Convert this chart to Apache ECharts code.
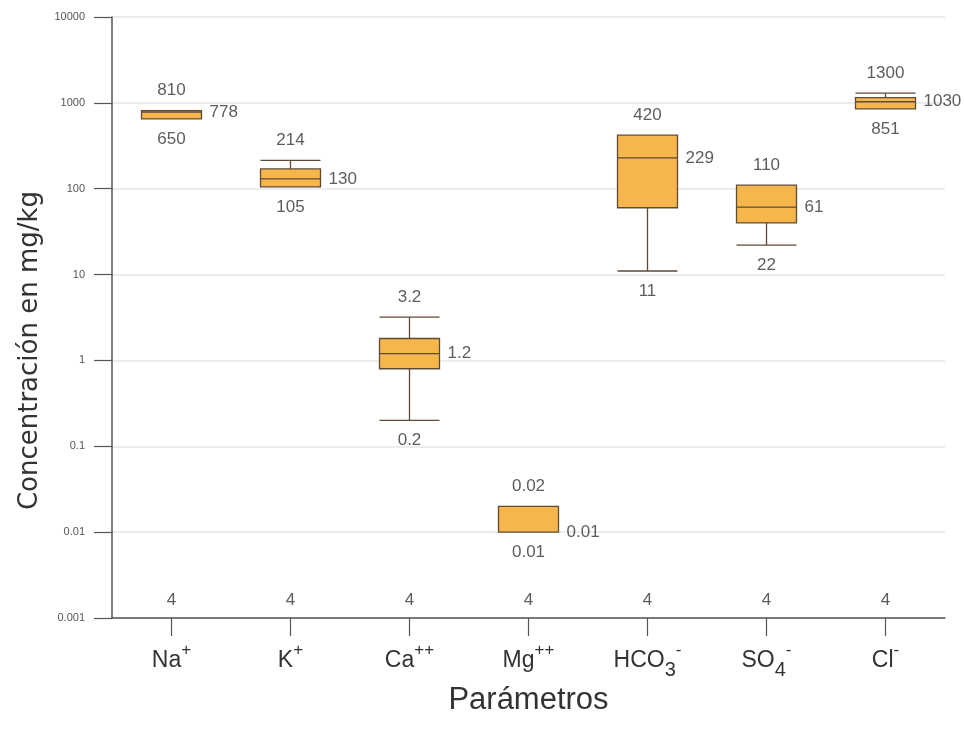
<!DOCTYPE html>
<html><head><meta charset="utf-8">
<script src="https://cdn.jsdelivr.net/npm/echarts@6/dist/echarts.min.js"></script>
<style>html,body{margin:0;padding:0;background:#fff}#c{width:964px;height:733px}</style>
</head><body><div id="c"></div>
<script>
// ---- data ----
const catBase = ['Na', 'K', 'Ca', 'Mg', 'HCO', 'SO', 'Cl'];
const catSub  = ['', '', '', '', '3', '4', ''];
const catSup  = ['+', '+', '++', '++', '-', '-', '-'];
const minV = [650, 105, 0.2, 0.01, 11, 22, 851];
const q1V  = [650, 105, 0.8, 0.01, 60, 40, 851];
const medV = [778, 130, 1.2, 0.01, 229, 61, 1030];
const q3V  = [810, 170, 1.8, 0.02, 420, 110, 1150];
const maxV = [810, 214, 3.2, 0.02, 420, 110, 1300];
const counts = [4, 4, 4, 4, 4, 4, 4];
const yTicks = [0.001, 0.01, 0.1, 1, 10, 100, 1000, 10000];
const yTickLabels = ['0.001', '0.01', '0.1', '1', '10', '100', '1000', '10000'];

// ---- chart ----
const NARROW = "'Liberation Sans Narrow', 'Arial Narrow', 'Liberation Sans', sans-serif";
const SANS = "'Liberation Sans', Arial, sans-serif";
const catNames = catBase.map((b, i) => b + catSub[i] + catSup[i]);
const boxData = catBase.map((_, i) => [minV[i], q1V[i], medV[i], q3V[i], maxV[i]]);

function labelSeries(vals, offset, align) {
  return {
    type: 'scatter',
    data: vals.map((v, i) => [i, v]),
    symbolSize: 1,
    itemStyle: { color: 'rgba(0,0,0,0)' },
    silent: true,
    z: 5,
    label: {
      show: true, position: 'inside', offset: offset, align: align,
      formatter: p => String(vals[p.dataIndex]),
      fontSize: 17, color: '#333', fontFamily: SANS
    }
  };
}

const chart = echarts.init(document.getElementById('c'), null, { renderer: 'canvas' });
chart.setOption({
  animation: false,
  backgroundColor: '#fff',
  grid: { left: 112, right: 19, top: 17, bottom: 115 },
  xAxis: {
    type: 'category',
    data: catNames,
    boundaryGap: true,
    axisLine: { lineStyle: { color: '#555', width: 1.5 } },
    axisTick: { show: true, alignWithLabel: true, length: 18, lineStyle: { color: '#555', width: 1.2 } },
    axisLabel: {
      margin: 24,
      interval: 0,
      formatter: (v, i) => {
        let s = '{b|' + catBase[i] + '}';
        if (catSub[i]) s += '{sub|' + catSub[i] + '}';
        s += '{sup|' + catSup[i] + '}';
        return s;
      },
      rich: {
        b: { fontSize: 23, fontFamily: NARROW, color: '#333', lineHeight: 38, verticalAlign: 'middle' },
        sup: { fontSize: 17, fontFamily: NARROW, color: '#333', lineHeight: 17, verticalAlign: 'top' },
        sub: { fontSize: 20, fontFamily: NARROW, color: '#333', lineHeight: 20, verticalAlign: 'bottom' }
      }
    },
    splitLine: { show: false },
    name: 'Parámetros',
    nameLocation: 'middle',
    nameGap: 58,
    nameTextStyle: { fontSize: 31, fontFamily: NARROW, color: '#333' }
  },
  yAxis: {
    type: 'log',
    logBase: 10,
    min: 0.001,
    max: 10000,
    axisLine: { show: true, lineStyle: { color: '#555', width: 1.5 } },
    axisTick: { show: true, length: 18, lineStyle: { color: '#555', width: 1.2 } },
    axisLabel: {
      margin: 27, fontSize: 11, color: '#555', fontFamily: SANS,
      formatter: v => {
        const k = yTicks.findIndex(t => Math.abs(Math.log10(t) - Math.log10(v)) < 1e-6);
        return k >= 0 ? yTickLabels[k] : '';
      }
    },
    splitLine: { show: true, lineStyle: { color: '#ececec', width: 2 } },
    name: 'Concentración en mg/kg',
    nameLocation: 'middle',
    nameGap: 64,
    nameTextStyle: { fontSize: 26, fontFamily: "'DejaVu Sans', sans-serif", color: '#333', padding: [0, 66, 0, 0] }
  },
  series: [
    {
      type: 'boxplot',
      data: boxData,
      boxWidth: [60, 60],
      silent: true,
      itemStyle: { color: '#F6B64C', borderColor: '#5e4b36', borderWidth: 1.3 },
      z: 3
    },
    labelSeries(maxV, [0, -20], 'center'),
    labelSeries(minV, [0, 20], 'center'),
    labelSeries(medV, [38, 0], 'left'),
    {
      type: 'scatter',
      data: counts.map((c, i) => [i, 0.001]),
      symbolSize: 1,
      itemStyle: { color: 'rgba(0,0,0,0)' },
      silent: true,
      z: 5,
      label: {
        show: true, position: 'inside', offset: [0, -18],
        formatter: p => String(counts[p.dataIndex]),
        fontSize: 17, color: '#333', fontFamily: NARROW
      }
    }
  ]
});
</script>
</body></html>
